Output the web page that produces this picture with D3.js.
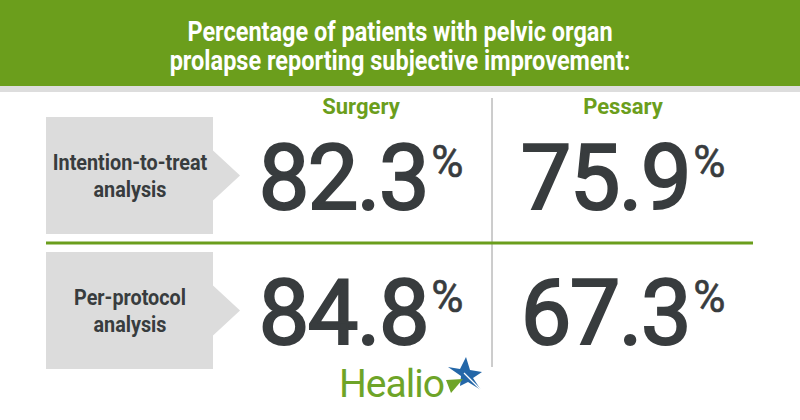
<!DOCTYPE html>
<html>
<head>
<meta charset="utf-8">
<script src="https://cdn.jsdelivr.net/npm/d3@7"></script>
<style>
  body { margin: 0; background: #fff; }
  svg { display: block; }
</style>
</head>
<body>
<svg id="chart" width="800" height="420"></svg>
<script>
var titleLines = ["Percentage of patients with pelvic organ", "prolapse reporting subjective improvement:"];
var groups = ["Surgery", "Pessary"];
var analyses = [["Intention-to-treat", "analysis"], ["Per-protocol", "analysis"]];
var surgery = [82.3, 84.8];
var pessary = [75.9, 67.3];

var green = "#6b9e1c";
var dark = "#383c3e";

var svg = d3.select("#chart");

var x = d3.scaleBand().domain(groups).range([230, 754]);
var y = d3.scaleBand().domain(d3.range(analyses.length)).range([108, 378]);

// header band
svg.append("rect").attr("x", 0).attr("y", 0).attr("width", 800).attr("height", 86).attr("fill", green);
svg.append("rect").attr("x", 0).attr("y", 86).attr("width", 800).attr("height", 6).attr("fill", "#dddddd");

svg.selectAll(".title")
  .data(titleLines)
  .enter().append("text")
  .attr("class", "title")
  .attr("transform", function(d, i) { return "translate(400," + (41 + i * 29) + ") scale(0.87,1)"; })
  .attr("text-anchor", "middle")
  .attr("fill", "#fff")
  .attr("font-family", "Roboto, sans-serif")
  .attr("font-weight", 700)
  .attr("font-size", 27)
  .text(function(d) { return d; });

// column headers
svg.selectAll(".head")
  .data(groups)
  .enter().append("text")
  .attr("class", "head")
  .attr("x", function(d) { return x(d) + x.bandwidth() / 2; })
  .attr("y", 114)
  .attr("text-anchor", "middle")
  .attr("fill", green)
  .attr("font-family", "Roboto, sans-serif")
  .attr("font-weight", 700)
  .attr("font-size", 22)
  .text(function(d) { return d; });

// divider lines
svg.append("line")
  .attr("x1", x("Pessary")).attr("x2", x("Pessary"))
  .attr("y1", 98).attr("y2", 367)
  .attr("stroke", "#9a9a9a").attr("stroke-width", 1);

svg.append("line")
  .attr("x1", 46).attr("x2", 753)
  .attr("y1", y(1)).attr("y2", y(1))
  .attr("stroke", green).attr("stroke-width", 3);

// label boxes with arrow
var boxPath = function(i) {
  var cy = y(i) + y.bandwidth() / 2;
  var top = cy - 58.5, bot = cy + 58.5;
  return "M46," + top + "H213V" + (cy - 25) + "L240," + cy + "L213," + (cy + 25) +
    "V" + bot + "H46Z";
};

var rows = svg.selectAll(".row")
  .data(analyses)
  .enter().append("g")
  .attr("class", "row");

rows.append("path")
  .attr("d", function(d, i) { return boxPath(i); })
  .attr("fill", "#dcdcdc");

rows.append("text")
  .attr("transform", function(d, i) { return "translate(130," + (y(i) + y.bandwidth() / 2) + ") scale(0.9,1)"; })
  .attr("text-anchor", "middle")
  .attr("fill", dark)
  .attr("font-family", "Roboto, sans-serif")
  .attr("font-weight", 700)
  .attr("font-size", 22)
  .selectAll("tspan")
  .data(function(d) { return d; })
  .enter().append("tspan")
  .attr("x", 0)
  .attr("y", function(d, j) { return -5.5 + j * 27; })
  .text(function(d) { return d; });

// values
var cells = [];
analyses.forEach(function(a, i) {
  cells.push({ group: "Surgery", row: i, value: surgery[i] });
  cells.push({ group: "Pessary", row: i, value: pessary[i] });
});

var num = svg.selectAll(".num")
  .data(cells)
  .enter().append("text")
  .attr("class", "num")
  .attr("x", function(d) { return x(d.group) + x.bandwidth() / 2; })
  .attr("y", function(d) { return y(d.row) + y.bandwidth() / 2 + 33; })
  .attr("text-anchor", "middle")
  .attr("fill", dark)
  .attr("font-family", "Roboto, sans-serif")
  .attr("font-weight", 400);

// regular weight thickened a little, close to a medium cut
num.append("tspan")
  .attr("font-size", 90)
  .attr("letter-spacing", -1.5)
  .attr("stroke", dark)
  .attr("stroke-width", 2.2)
  .text(function(d) { return d3.format(".1f")(d.value); });

num.append("tspan")
  .attr("font-size", 44)
  .attr("stroke", dark)
  .attr("stroke-width", 0.6)
  .attr("dx", 3)
  .attr("dy", -32)
  .text("%");

// Healio logo
var logo = svg.append("g").attr("transform", "translate(339,397)");
logo.append("text")
  .attr("x", 0).attr("y", 0)
  .attr("fill", "#6ea428")
  .attr("font-family", "Roboto, sans-serif")
  .attr("font-size", 39)
  .attr("letter-spacing", -1)
  .text("Healio");

logo.append("path")
  .attr("d", "M109,-30 L121,-28 L127,-40 L131,-27 L143,-25 L134,-19 L142,-7 L129,-15 L121,-11 L122,-21 Z")
  .attr("fill", "#2467a8");
logo.append("path")
  .attr("d", "M107,-17 L124,-18 L112,-4 Z")
  .attr("fill", "#6ea428");
logo.append("line")
  .attr("x1", 125).attr("y1", -24).attr("x2", 142).attr("y2", -7)
  .attr("stroke", "#fff").attr("stroke-width", 1.2);
</script>
</body>
</html>
